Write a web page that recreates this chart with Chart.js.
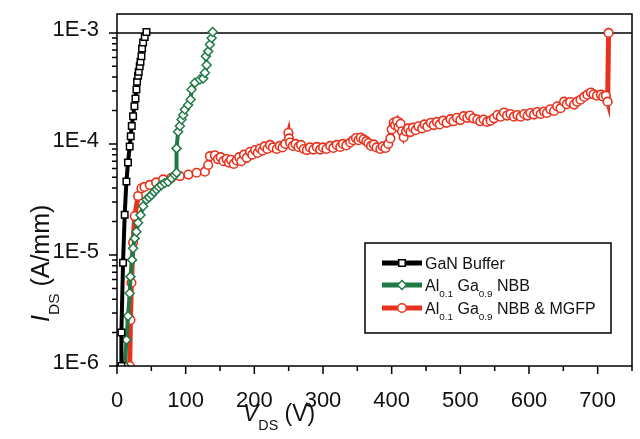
<!DOCTYPE html>
<html>
<head>
<meta charset="utf-8">
<script src="https://cdn.jsdelivr.net/npm/chart.js@4/dist/chart.umd.min.js"></script>
<style>
  html, body { margin: 0; padding: 0; background: #fff; }
</style>
</head>
<body>
<canvas id="chart" width="640" height="439"></canvas>
<script>
// GaN buffer (V, A/mm)
const ganV = [6.4, 6.4, 8.8, 11.2, 13.7, 16, 18.5, 20, 21.5, 23.4, 25.4, 26.9, 28.3, 29.2, 30.7, 31.7, 33.1, 34.2, 35.6, 36.5, 38, 40.4, 42.9];
const ganI = [1.0e-6, 2.0e-6, 8.5e-6, 2.3e-5, 4.6e-5, 6.8e-5, 9.5e-5, 1.17e-4, 1.45e-4, 1.78e-4, 2.19e-4, 2.57e-4, 3.09e-4, 3.63e-4, 4.12e-4, 4.47e-4, 5.0e-4, 5.5e-4, 6.17e-4, 7.24e-4, 8.2e-4, 9.2e-4, 1.02e-3];

// Al0.1Ga0.9N back barrier
const nbbV = [11.2, 13.7, 16.1, 18.5, 19.6, 21.9, 23.4, 25.8, 28.3, 30.7, 34.2, 38, 42.9, 46.5, 50.2, 54, 57.5, 61, 64.8, 69.5, 74.5, 79.5, 84.2, 86.7,
  86.7, 89, 91.5, 94, 96.4, 98.8, 103.6, 107.2, 108.6, 113.4, 120.7, 125.5, 128, 130.5, 129.5, 132.8, 135.3, 137.8, 139.3];
const nbbI = [1.0e-6, 1.72e-6, 2.82e-6, 4.52e-6, 6.38e-6, 9.03e-6, 1.15e-5, 1.41e-5, 1.62e-5, 1.95e-5, 2.29e-5, 2.75e-5, 3.16e-5, 3.3e-5, 3.47e-5, 3.7e-5, 3.89e-5, 4.1e-5, 4.27e-5, 4.45e-5, 4.57e-5, 4.9e-5, 5.25e-5, 5.5e-5,
  9.12e-5, 1.29e-4, 1.45e-4, 1.66e-4, 1.82e-4, 2.04e-4, 2.24e-4, 2.51e-4, 3.09e-4, 3.55e-4, 3.8e-4, 3.89e-4, 4.37e-4, 5.13e-4, 6.17e-4, 6.82e-4, 7.85e-4, 9.0e-4, 1.02e-3];

// Al0.1Ga0.9N back barrier + multiple field plates
const mgfpV = [18.5, 19.6, 21, 23.4, 25.8, 30.7, 35.6, 40, 47.7, 57, 67.2, 79, 91.5, 104, 115.9, 128, 132.8, 135.3,
  142.6, 147, 151, 155, 159.7, 163, 166, 170, 174.3, 178, 181, 185, 188.9, 193.7, 197, 201, 205, 208.3, 212, 215, 219, 222.9, 227, 232.7, 237, 241, 245,
  249.6, 250.5, 252.1, 256, 260, 264.2, 268, 272, 276.5, 281, 286, 291, 295.9, 300, 305, 310.5, 315, 320, 325.1, 329, 334, 339.7, 344, 348, 351.8, 355,
  359.1, 363, 366, 370, 374, 378, 383.5, 387, 391, 395, 398.1, 400, 402.9, 405, 407.9, 410, 413, 415, 417.5, 421, 424, 427.3, 431, 435, 439, 444.4,
  448, 452, 457, 461.3, 466, 470, 475, 480, 485.7, 490, 495, 500, 505, 510, 514, 519, 524.7, 529, 534, 539, 544.1, 549, 554, 559, 563.5, 568, 573,
  578, 583.1, 588, 593, 598, 602, 607.3, 612, 617, 621.9, 626, 631, 636.5, 641, 646, 651.1, 655, 660, 665.7, 670, 675, 680.3, 685, 690.1, 694, 699,
  704.7, 708, 712, 714.5, 715.9];
const mgfpI = [1.0e-6, 2.6e-6, 5.62e-6, 1.29e-5, 2.24e-5, 3.39e-5, 3.98e-5, 4.1e-5, 4.27e-5, 4.5e-5, 4.79e-5, 4.95e-5, 5.13e-5, 5.3e-5, 5.5e-5, 5.62e-5, 6.46e-5, 7.76e-5,
  7.9e-5, 7.3e-5, 7.6e-5, 7.0e-5, 7.3e-5, 6.8e-5, 7.2e-5, 6.6e-5, 7.1e-5, 7.6e-5, 7.0e-5, 8.0e-5, 7.5e-5, 8.5e-5, 8.0e-5, 8.8e-5, 8.3e-5, 9.1e-5, 8.7e-5, 9.5e-5, 9.0e-5, 9.8e-5, 9.3e-5, 9.0e-5, 9.6e-5, 9.3e-5, 1.0e-4,
  1.26e-4, 1.12e-4, 1.03e-4, 9.6e-5, 1.0e-4, 9.4e-5, 9.8e-5, 9.0e-5, 8.8e-5, 9.3e-5, 8.9e-5, 9.4e-5, 8.9e-5, 9.3e-5, 9.0e-5, 9.6e-5, 9.2e-5, 9.8e-5, 9.4e-5, 1.0e-4, 9.7e-5, 1.03e-4, 1.08e-4, 1.13e-4, 1.08e-4, 1.14e-4,
  1.1e-4, 1.06e-4, 1.02e-4, 9.6e-5, 9.9e-5, 9.3e-5, 9.0e-5, 9.5e-5, 9.2e-5, 1.0e-4, 1.12e-4, 1.35e-4, 1.55e-4, 1.48e-4, 1.6e-4, 1.42e-4, 1.52e-4, 1.3e-4, 1.15e-4, 1.3e-4, 1.38e-4, 1.28e-4, 1.4e-4, 1.33e-4, 1.44e-4, 1.38e-4,
  1.5e-4, 1.43e-4, 1.55e-4, 1.48e-4, 1.58e-4, 1.5e-4, 1.62e-4, 1.55e-4, 1.67e-4, 1.6e-4, 1.72e-4, 1.64e-4, 1.78e-4, 1.72e-4, 1.8e-4, 1.7e-4, 1.66e-4, 1.6e-4, 1.66e-4, 1.58e-4, 1.62e-4, 1.7e-4, 1.82e-4, 1.76e-4, 1.92e-4, 1.8e-4, 1.86e-4,
  1.76e-4, 1.82e-4, 1.76e-4, 1.86e-4, 1.8e-4, 1.9e-4, 1.84e-4, 1.94e-4, 1.86e-4, 1.96e-4, 1.9e-4, 2.05e-4, 1.98e-4, 2.18e-4, 2.1e-4, 2.4e-4, 2.28e-4, 2.38e-4, 2.26e-4, 2.4e-4, 2.5e-4, 2.65e-4, 2.78e-4, 2.9e-4, 2.8e-4, 2.72e-4,
  2.78e-4, 2.66e-4, 2.72e-4, 2.4e-4, 1.0e-3];

const xMajor = [0, 100, 200, 300, 400, 500, 600, 700];
const xMinor = [50, 150, 250, 350, 450, 550, 650, 750];
const yMajor = [1e-6, 1e-5, 1e-4, 1e-3];
const yLabels = ['1E-6', '1E-5', '1E-4', '1E-3'];
const yMinor = [];
for (let d = -6; d < -2; d++) {
  for (let m = 2; m <= 9; m++) {
    if (m * Math.pow(10, d) < 1.48e-3) yMinor.push(m * Math.pow(10, d));
  }
}
const refLine = 1e-3;

const legendParts = [
  [{ t: 'GaN Buffer' }],
  [{ t: 'Al' }, { t: '0.1', sub: true }, { t: ' Ga' }, { t: '0.9', sub: true }, { t: ' NBB' }],
  [{ t: 'Al' }, { t: '0.1', sub: true }, { t: ' Ga' }, { t: '0.9', sub: true }, { t: ' NBB & MGFP' }]
];

const FONT = '"Liberation Sans", Arial, sans-serif';

function toXY(xs, ys) {
  return xs.map((v, i) => ({ x: v, y: ys[i] }));
}

// text with subscripts, left aligned from x on baseline y
function drawRich(ctx, parts, x, y, size) {
  parts.forEach(p => {
    const s = p.sub ? size * 0.62 : size;
    ctx.font = (p.it ? 'italic ' : '') + s + 'px ' + FONT;
    ctx.fillText(p.t, x, y + (p.sub ? size * 0.4 : 0));
    x += ctx.measureText(p.t).width;
  });
}

const decor = {
  id: 'decor',
  beforeDatasetsDraw(chart) {
    const { ctx, chartArea: a, scales: { y } } = chart;
    ctx.save();
    ctx.strokeStyle = '#000';
    ctx.lineWidth = 1.5;
    const yr = y.getPixelForValue(refLine);
    ctx.beginPath();
    ctx.moveTo(a.left, yr);
    ctx.lineTo(a.right, yr);
    ctx.stroke();
    ctx.restore();
  },
  afterDraw(chart) {
    const { ctx, chartArea: a, scales: { x, y } } = chart;
    ctx.save();
    ctx.strokeStyle = '#000';
    ctx.lineWidth = 1.5;
    ctx.strokeRect(a.left, a.top, a.right - a.left, a.bottom - a.top);

    // tick marks
    ctx.beginPath();
    xMajor.forEach(v => { const p = x.getPixelForValue(v); ctx.moveTo(p, a.bottom); ctx.lineTo(p, a.bottom + 8); });
    xMinor.forEach(v => { const p = x.getPixelForValue(v); ctx.moveTo(p, a.bottom); ctx.lineTo(p, a.bottom + 5); });
    yMajor.forEach(v => { const p = y.getPixelForValue(v); ctx.moveTo(a.left, p); ctx.lineTo(a.left - 8, p); });
    yMinor.forEach(v => { const p = y.getPixelForValue(v); ctx.moveTo(a.left, p); ctx.lineTo(a.left - 5, p); });
    ctx.stroke();

    // axis titles
    ctx.fillStyle = '#111';
    ctx.textBaseline = 'alphabetic';
    drawRich(ctx, [{ t: 'V', it: true }, { t: 'DS', sub: true }, { t: ' (V)' }], 243, 421, 23);
    ctx.save();
    ctx.translate(49, 322);
    ctx.rotate(-Math.PI / 2);
    drawRich(ctx, [{ t: 'I', it: true }, { t: 'DS', sub: true }, { t: ' (A/mm)' }], 0, 0, 25);
    ctx.restore();

    // legend
    const bx = 365, by = 243, bw = 246, bh = 90;
    ctx.fillStyle = '#fff';
    ctx.fillRect(bx, by, bw, bh);
    ctx.lineWidth = 1.5;
    ctx.strokeStyle = '#000';
    ctx.strokeRect(bx, by, bw, bh);
    const rows = [263, 285, 308];
    chart.data.datasets.forEach((ds, i) => {
      const cy = rows[i];
      ctx.strokeStyle = ds.borderColor;
      ctx.lineWidth = 5;
      ctx.beginPath();
      ctx.moveTo(382, cy);
      ctx.lineTo(422, cy);
      ctx.stroke();
      ctx.fillStyle = '#fff';
      ctx.lineWidth = 1.5;
      Chart.helpers.drawPoint(ctx, { pointStyle: ds.pointStyle, radius: ds.pointRadius, rotation: 0, borderWidth: 1.5 }, 402, cy);
      ctx.fillStyle = '#111';
      drawRich(ctx, legendParts[i], 425, cy + 5.5, 16);
    });
    ctx.restore();
  }
};

new Chart(document.getElementById('chart'), {
  type: 'line',
  data: {
    datasets: [
      {
        label: 'GaN Buffer',
        data: toXY(ganV, ganI),
        borderColor: '#000000',
        borderWidth: 4,
        pointStyle: 'rect',
        pointRadius: 4.6,
        pointBackgroundColor: '#ffffff',
        pointBorderColor: '#000000',
        pointBorderWidth: 1.5
      },
      {
        label: 'Al0.1 Ga0.9 NBB',
        data: toXY(nbbV, nbbI),
        borderColor: '#1f7a45',
        borderWidth: 4,
        pointStyle: 'rectRot',
        pointRadius: 4.5,
        pointBackgroundColor: '#ffffff',
        pointBorderColor: '#1f7a45',
        pointBorderWidth: 1.5
      },
      {
        label: 'Al0.1 Ga0.9 NBB & MGFP',
        data: toXY(mgfpV, mgfpI),
        borderColor: '#e8321e',
        borderWidth: 5,
        pointStyle: 'circle',
        pointRadius: 4.3,
        pointBackgroundColor: '#ffffff',
        pointBorderColor: '#e8321e',
        pointBorderWidth: 1.6
      }
    ]
  },
  options: {
    responsive: false,
    animation: false,
    layout: { padding: { left: 0, right: 8, top: 14, bottom: 0 } },
    plugins: { legend: { display: false }, tooltip: { enabled: false } },
    elements: { line: { tension: 0 } },
    scales: {
      x: {
        type: 'linear',
        min: 0,
        max: 750,
        grid: { display: false },
        border: { display: false },
        afterBuildTicks: s => { s.ticks = xMajor.map(v => ({ value: v })); },
        afterFit: s => { s.height = 73; s.paddingLeft = 0; s.paddingRight = 0; },
        ticks: { color: '#111', padding: 14, font: { family: FONT, size: 22 } }
      },
      y: {
        type: 'logarithmic',
        min: 1e-6,
        max: 1.48e-3,
        grid: { display: false },
        border: { display: false },
        afterBuildTicks: s => { s.ticks = yMajor.map(v => ({ value: v })); },
        afterFit: s => { s.width = 117; s.paddingTop = 0; s.paddingBottom = 0; },
        ticks: {
          color: '#111',
          padding: 10,
          labelOffset: -3,
          font: { family: FONT, size: 22 },
          callback: v => yLabels[yMajor.indexOf(v)]
        }
      }
    }
  },
  plugins: [decor]
});
</script>
</body>
</html>
